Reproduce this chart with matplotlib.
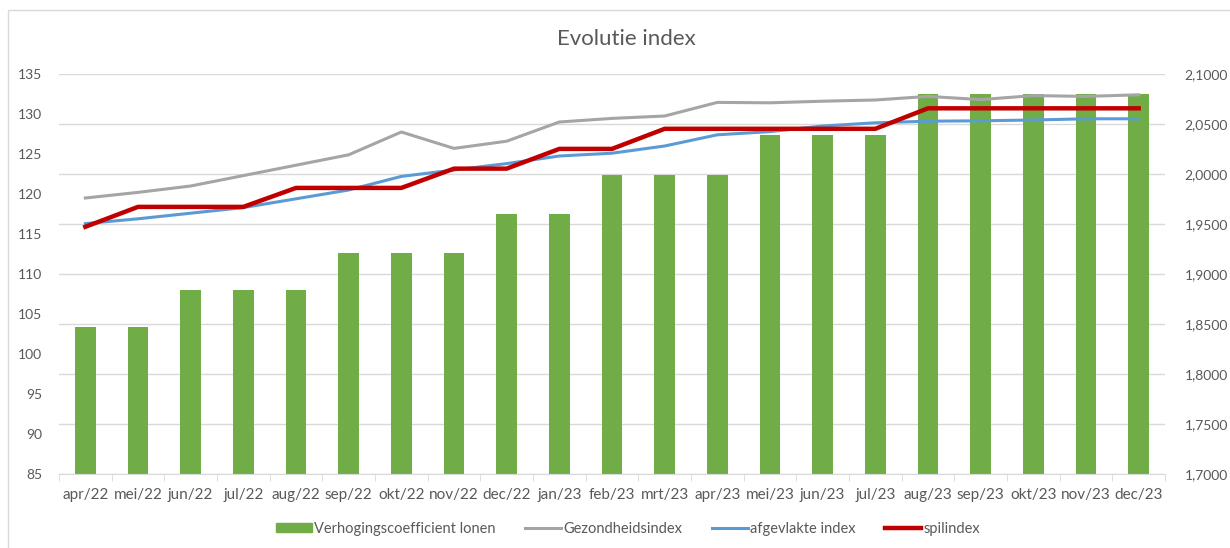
import matplotlib.pyplot as plt
from matplotlib.patches import Rectangle
from matplotlib.lines import Line2D
from matplotlib.ticker import FuncFormatter, FixedLocator

plt.rcParams['font.family'] = ['Lato', 'DejaVu Sans']

months = ['apr/22', 'mei/22', 'jun/22', 'jul/22', 'aug/22', 'sep/22', 'okt/22',
          'nov/22', 'dec/22', 'jan/23', 'feb/23', 'mrt/23', 'apr/23', 'mei/23',
          'jun/23', 'jul/23', 'aug/23', 'sep/23', 'okt/23', 'nov/23', 'dec/23']

# right axis (bars)
coefficient = [1.8466, 1.8466, 1.8835, 1.8835, 1.8835, 1.9212, 1.9212,
               1.9212, 1.9596, 1.9596, 1.9988, 1.9988, 1.9988, 2.0388,
               2.0388, 2.0388, 2.0796, 2.0796, 2.0796, 2.0796, 2.0796]

# left axis (lines)
gezondheidsindex = [119.5, 120.2, 121.0, 122.3, 123.6, 124.9, 127.75,
                    125.7, 126.6, 129.0, 129.45, 129.75, 131.45, 131.4,
                    131.6, 131.75, 132.2, 131.8, 132.3, 132.2, 132.4]
afgevlakte_index = [116.3, 116.9, 117.6, 118.3, 119.4, 120.5, 122.2,
                    123.0, 123.8, 124.75, 125.1, 126.0, 127.4, 127.8,
                    128.5, 128.9, 129.1, 129.15, 129.25, 129.4, 129.4]
spilindex = [115.9, 118.39, 118.39, 118.39, 120.76, 120.76, 120.76,
             123.17, 123.17, 125.64, 125.64, 128.15, 128.15, 128.15,
             128.15, 128.15, 130.71, 130.71, 130.71, 130.71, 130.71]

GREEN = '#70AD47'
GREY = '#A5A5A5'
BLUE = '#5B9BD5'
RED = '#C00000'
TEXT = '#595959'
GRID = '#D9D9D9'

fig = plt.figure(figsize=(12.3, 5.48), dpi=100)
ax = fig.add_axes([59 / 1230, 1 - 474 / 548, (1165 - 59) / 1230, 400 / 548])
ax2 = ax.twinx()

# chart border
fig.patches.append(Rectangle((8 / 1230, -0.05), 1.1, 1 - 10 / 548 + 0.05,
                             transform=fig.transFigure, fill=False,
                             edgecolor=GRID, linewidth=1))

x = list(range(len(months)))

# bars on secondary axis, drawn underneath the lines
ax2.set_zorder(1)
ax.set_zorder(2)
ax.patch.set_visible(False)
ax2.bar(x, coefficient, width=0.39, color=GREEN, zorder=2)
ax2.set_ylim(1.7, 2.1)
ax2.set_yticks([1.7 + 0.05 * i for i in range(9)])
ax2.yaxis.set_major_formatter(FuncFormatter(lambda v, p: f'{v:.4f}'.replace('.', ',')))
ax2.grid(axis='y', color=GRID, linewidth=1, zorder=0)
ax2.set_axisbelow(True)

ax.plot(x, gezondheidsindex, color=GREY, linewidth=2.2, solid_joinstyle='round')
ax.plot(x, afgevlakte_index, color=BLUE, linewidth=2.2, solid_joinstyle='round')
ax.plot(x, spilindex, color=RED, linewidth=3.2, solid_joinstyle='round')
ax.set_ylim(85, 135)
ax.set_yticks(range(85, 136, 5))
ax.set_xlim(-0.5, len(months) - 0.5)
ax.set_xticks(x)
ax.set_xticklabels(months)
ax.xaxis.set_minor_locator(FixedLocator([i - 0.5 for i in range(len(months) + 1)]))

for a in (ax, ax2):
    for s in a.spines.values():
        s.set_visible(False)
ax.spines['bottom'].set_visible(True)
ax.spines['bottom'].set_color(GRID)

ax.tick_params(axis='x', which='major', length=0, pad=10, labelsize=11, labelcolor=TEXT)
ax.tick_params(axis='x', which='minor', length=5, color=GRID, direction='out')
ax.tick_params(axis='y', length=0, pad=12, labelsize=10, labelcolor=TEXT)
ax2.tick_params(axis='y', length=0, pad=14, labelsize=10, labelcolor=TEXT)

fig.text(626 / 1230, 1 - 39 / 548, 'Evolutie index', ha='center', va='center',
         fontsize=16, color=TEXT)

handles = [Rectangle((0, 0), 1, 1, color=GREEN),
           Line2D([], [], color=GREY, linewidth=2.2),
           Line2D([], [], color=BLUE, linewidth=2.2),
           Line2D([], [], color=RED, linewidth=3.2)]
labels = ['Verhogingscoefficient lonen', 'Gezondheidsindex', 'afgevlakte index', 'spilindex']
fig.legend(handles, labels, loc='center', bbox_to_anchor=(628 / 1230, 1 - 529 / 548),
           ncol=4, frameon=False, fontsize=10.5, labelcolor=TEXT,
           handlelength=2.5, handleheight=0.6, handletextpad=0.15, columnspacing=2.0)

fig.savefig('out.png', dpi=100)
